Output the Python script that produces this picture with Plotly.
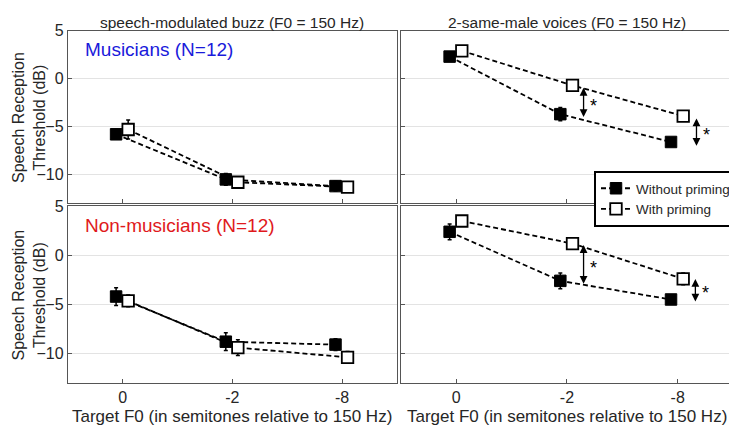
import plotly.graph_objects as go

# ---------------- data ----------------
categories = ["0", "-2", "-8"]
cat_pos = [1, 2, 3]

buzz_mus_without = [-5.8, -10.5, -11.2]
buzz_mus_without_err = [0.5, 0.6, 0.5]
buzz_mus_with = [-5.3, -10.8, -11.3]
buzz_mus_with_err = [1.0, 0.4, 0.3]

voices_mus_without = [2.3, -3.7, -6.6]
voices_mus_without_err = [0.4, 0.7, 0.4]
voices_mus_with = [2.9, -0.7, -3.9]
voices_mus_with_err = [0.3, 0.4, 0.3]

buzz_non_without = [-4.2, -8.8, -9.1]
buzz_non_without_err = [0.9, 0.9, 0.6]
buzz_non_with = [-4.65, -9.4, -10.4]
buzz_non_with_err = [0.6, 0.8, 0.6]

voices_non_without = [2.4, -2.6, -4.5]
voices_non_without_err = [0.8, 0.8, 0.3]
voices_non_with = [3.5, 1.2, -2.4]
voices_non_with_err = [0.3, 0.3, 0.6]

# significance arrows: (x position, y top, y bottom)
arrows_mus = [(2.15, -0.8, -4.0), (3.17, -4.0, -7.0)]
arrows_non = [(2.15, 1.2, -2.9), (3.16, -2.25, -4.7)]

panel_titles = ["speech-modulated buzz (F0 = 150 Hz)", "2-same-male voices (F0 = 150 Hz)"]
ytick_vals = [-10, -5, 0, 5]
x_title = "Target F0 (in semitones relative to 150 Hz)"
y_title = "Speech Reception<br>Threshold (dB)"

# ---------------- figure ----------------
# page body has an 8px margin, so the figure is drawn 8px in from the window corner
OFF = 8
W, H = 737 - OFF, 428 - OFF
FONT = "Liberation Sans, Arial, sans-serif"
TXT = "#262626"

def px(x):  # window x -> paper
    return (x - OFF) / W

def py(y):  # window y -> paper
    return 1 - (y - OFF) / H

fig = go.Figure()

off_without = -0.06
off_with = 0.05
DASH = "5px,3px"
MS = 11.5

panels = [
    ("x", "y", buzz_mus_without, buzz_mus_without_err, buzz_mus_with, buzz_mus_with_err),
    ("x2", "y2", voices_mus_without, voices_mus_without_err, voices_mus_with, voices_mus_with_err),
    ("x3", "y3", buzz_non_without, buzz_non_without_err, buzz_non_with, buzz_non_with_err),
    ("x4", "y4", voices_non_without, voices_non_without_err, voices_non_with, voices_non_with_err),
]

for i, (xa, ya, wo, woe, wi, wie) in enumerate(panels):
    show = (i == 1)
    fig.add_trace(go.Scatter(
        x=[p + off_without for p in cat_pos], y=wo, xaxis=xa, yaxis=ya,
        mode="lines+markers", name="Without priming", showlegend=show,
        line=dict(color="black", width=1.8, dash=DASH),
        marker=dict(symbol="square", size=MS, color="black", line=dict(color="black", width=1)),
        error_y=dict(type="data", array=woe, color="black", thickness=1.5, width=2),
    ))
    fig.add_trace(go.Scatter(
        x=[p + off_with for p in cat_pos], y=wi, xaxis=xa, yaxis=ya,
        mode="lines+markers", name="With priming", showlegend=show,
        line=dict(color="black", width=1.8, dash=DASH),
        marker=dict(symbol="square", size=MS, color="white", line=dict(color="black", width=1.8)),
        error_y=dict(type="data", array=wie, color="black", thickness=1.5, width=2),
    ))

xdom_l = [px(68), px(398)]
xdom_r = [px(402), px(735)]
ydom_t = [py(199), py(23)]
ydom_b = [py(382), py(202)]

axis_common = dict(showline=True, linecolor="#555", linewidth=1.2, mirror=True,
                   ticks="inside", ticklen=4, tickcolor="#555",
                   tickfont=dict(family=FONT, size=16, color=TXT))

def xaxis(dom, anchor, labels):
    return dict(domain=dom, anchor=anchor, range=[0.5, 3.5], tickvals=cat_pos,
                ticktext=categories, showticklabels=labels, showgrid=False, zeroline=False,
                **axis_common)

def yaxis(dom, anchor, labels):
    return dict(domain=dom, anchor=anchor, range=[-13, 5], tickvals=ytick_vals,
                showticklabels=labels, showgrid=True, gridcolor="#e3e3e3", gridwidth=1, zeroline=False,
                **axis_common)

fig.update_layout(
    width=W, height=H, margin=dict(l=0, r=0, t=0, b=0),
    paper_bgcolor="white", plot_bgcolor="white",
    xaxis=xaxis(xdom_l, "y", False), yaxis=yaxis(ydom_t, "x", True),
    xaxis2=xaxis(xdom_r, "y2", False), yaxis2=yaxis(ydom_t, "x2", False),
    xaxis3=xaxis(xdom_l, "y3", True), yaxis3=yaxis(ydom_b, "x3", True),
    xaxis4=xaxis(xdom_r, "y4", True), yaxis4=yaxis(ydom_b, "x4", False),
    legend=dict(x=px(596), y=py(166), xanchor="left", yanchor="top",
                bgcolor="white", bordercolor="black", borderwidth=2,
                font=dict(family=FONT, size=13.5, color=TXT),
                itemwidth=30, tracegroupgap=0),
    showlegend=True,
)

TITLE_FS = 15.5
title_baseline = 19.5  # window px
title_center = title_baseline - 0.3465 * TITLE_FS

annotations = []
for t, dom in zip(panel_titles, [xdom_l, xdom_r]):
    annotations.append(dict(text=t, xref="paper", yref="paper", x=(dom[0] + dom[1]) / 2,
                            y=py(title_center), yanchor="middle", xanchor="center", showarrow=False,
                            font=dict(family=FONT, size=TITLE_FS, color=TXT)))
    annotations.append(dict(text=x_title, xref="paper", yref="paper", x=(dom[0] + dom[1]) / 2,
                            y=py(416), yanchor="middle", xanchor="center", showarrow=False,
                            font=dict(family=FONT, size=17, color=TXT)))
for dom in [ydom_t, ydom_b]:
    annotations.append(dict(text=y_title, xref="paper", yref="paper", x=px(29),
                            y=(dom[0] + dom[1]) / 2, yanchor="middle", xanchor="center",
                            textangle=-90, showarrow=False,
                            font=dict(family=FONT, size=16, color=TXT)))

annotations.append(dict(text="Musicians (N=12)", xref="x", yref="y", x=0.64, y=3.0,
                        xanchor="left", yanchor="middle", showarrow=False,
                        font=dict(family=FONT, size=19, color="#1a1adb")))
annotations.append(dict(text="Non-musicians (N=12)", xref="x3", yref="y3", x=0.64, y=3.0,
                        xanchor="left", yanchor="middle", showarrow=False,
                        font=dict(family=FONT, size=19, color="#e0191c")))

for xa, ya, arr in [("x2", "y2", arrows_mus), ("x4", "y4", arrows_non)]:
    for (ax_, y1, y2) in arr:
        annotations.append(dict(x=ax_, y=y2, ax=ax_, ay=y1, xref=xa, yref=ya, axref=xa, ayref=ya,
                                showarrow=True, arrowhead=2, startarrowhead=2, arrowside="end+start",
                                arrowsize=1.2, startarrowsize=1.2, arrowwidth=1.3, arrowcolor="black", text=""))
        annotations.append(dict(x=ax_ + 0.04, y=(y1 + y2) / 2 - 0.4, xref=xa, yref=ya, text="*",
                                showarrow=False, xanchor="left", yanchor="middle",
                                font=dict(family=FONT, size=18, color="black")))

fig.update_layout(annotations=annotations)
fig.write_html("out.html")
